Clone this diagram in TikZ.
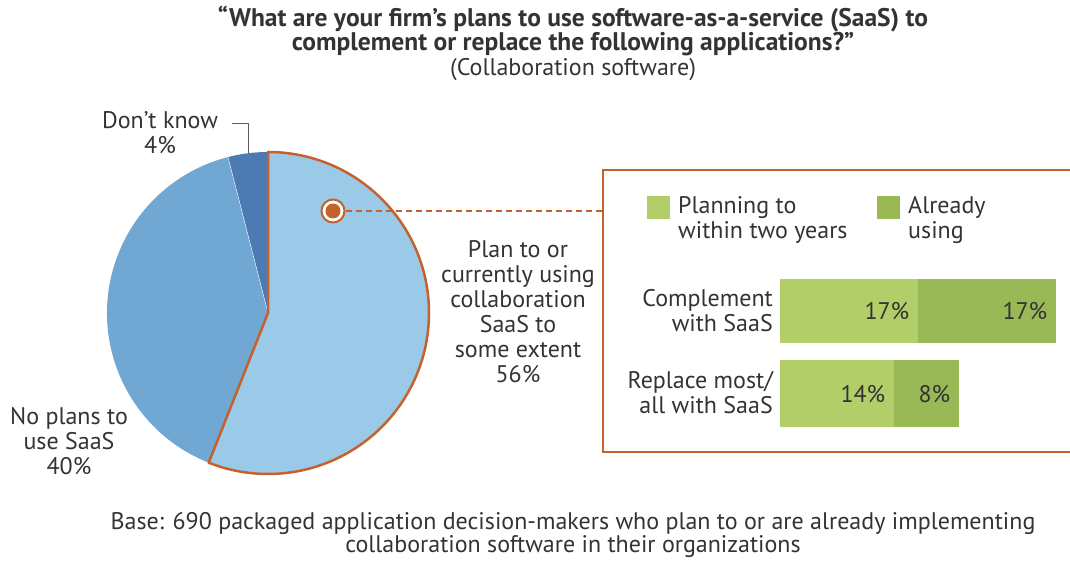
\documentclass[tikz,border=0pt]{standalone}
\usepackage{fontspec}
\setmainfont{PT Sans}
\definecolor{pieA}{HTML}{9BCAE9}
\definecolor{pieB}{HTML}{71A7D3}
\definecolor{pieC}{HTML}{4C7BB3}
\definecolor{org}{HTML}{C4622D}
\definecolor{gl}{HTML}{B2CE69}
\definecolor{gd}{HTML}{98B955}
\definecolor{txt}{HTML}{333333}
\begin{document}
\begin{tikzpicture}[x=1pt,y=-1pt,
  every node/.style={text=txt, inner sep=0pt},
  lbl/.style={font=\fontsize{24}{25}\selectfont, align=center},
  seglbl/.style={font=\fontsize{24}{25}\selectfont, anchor=east},
  rowlbl/.style={font=\fontsize{24}{25}\selectfont, align=right, anchor=east},
  legsq/.style={minimum size=23pt},
  orgline/.style={draw=org, line width=2pt}]
\useasboundingbox (0,0) rectangle (1070,561);
% title
\node[font=\bfseries\fontsize{25.5}{24}\selectfont, align=center] (title) at (573,31)
  {“What are your firm’s plans to use software-as-a-service (SaaS) to\\complement or replace the following applications?”};
\node[font=\fontsize{24}{24}\selectfont] (sub) at (573,70) {(Collaboration software)};
% pie
\begin{scope}[shift={(268,313)}]
  \fill[pieB] (0,0) -- (111.6:161) arc[start angle=111.6,end angle=255.6,radius=161] -- cycle;
  \fill[pieC] (0,0) -- (255.6:161) arc[start angle=255.6,end angle=270,radius=161] -- cycle;
  \draw[white, line width=0.4pt] (0,0) -- (255.6:161);
  \filldraw[fill=pieA, orgline, line width=2.5pt, line join=round] (0,0) -- (-90:161) arc[start angle=-90,end angle=111.6,radius=161] -- cycle;
\end{scope}
% marker and callout
\node[circle, draw=org, fill=white, line width=2pt, minimum size=23pt] (mk) at (333,211) {};
\fill[org] (mk.center) circle[radius=7.5];
\coordinate (boxl) at (603,211);
\draw[orgline, dash pattern=on 6pt off 4pt] (mk.east) -- (boxl);
\draw[orgline] (1070,170) -- (603,170) -- (603,452) -- (1070,452);
% pie labels
\node[lbl] (dk) at (160,133) {Don’t know\\4\%};
\draw[txt!80, line width=1pt] (232,124) -- (248,124) -- (248,153);
\node[lbl] (plan) at (518,312) {Plan to or\\currently using\\collaboration\\SaaS to\\some extent\\56\%};
\node[lbl] (noplan) at (69,441) {No plans to\\use SaaS\\40\%};
% legend
\node[legsq, fill=gl] (lg1) at (658.5,207.5) {};
\node[lbl, align=left, anchor=west] (lg1t) at (678,220) {Planning to\\within two years};
\node[legsq, fill=gd] (lg2) at (888.5,207.5) {};
\node[lbl, align=left, anchor=west] (lg2t) at (908,220) {Already\\using};
% bars
\node[fill=gl, minimum width=138pt, minimum height=64pt, anchor=north west] (b1a) at (780,279) {};
\node[fill=gd, minimum width=138pt, minimum height=64pt, anchor=north west] (b1b) at (918,279) {};
\node[fill=gl, minimum width=114pt, minimum height=67pt, anchor=north west] (b2a) at (780,360) {};
\node[fill=gd, minimum width=65pt, minimum height=67pt, anchor=north west] (b2b) at (894,360) {};
\node[seglbl] at ([xshift=-9pt]b1a.east) {17\%};
\node[seglbl] at ([xshift=-9pt]b1b.east) {17\%};
\node[seglbl] at ([xshift=-9pt]b2a.east) {14\%};
\node[seglbl] at ([xshift=-9pt]b2b.east) {8\%};
\node[rowlbl] (r1) at (773,311) {Complement\\with SaaS};
\node[rowlbl] (r2) at (773,393) {Replace most/\\all with SaaS};
% base
\node[font=\fontsize{24}{23}\selectfont, align=center] (base) at (573,535)
  {Base: 690 packaged application decision-makers who plan to or are already implementing\\collaboration software in their organizations};
\end{tikzpicture}
\end{document}
